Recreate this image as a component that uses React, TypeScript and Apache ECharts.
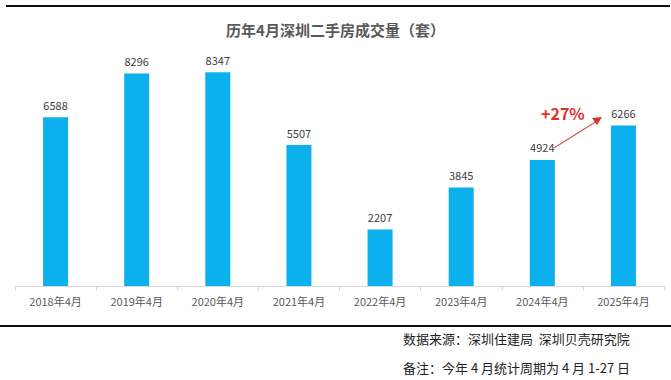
import React, { useEffect, useRef } from "react";
import * as echarts from "echarts";

const categories = ["2018年4月", "2019年4月", "2020年4月", "2021年4月", "2022年4月", "2023年4月", "2024年4月", "2025年4月"];
const volumes = [6588, 8296, 8347, 5507, 2207, 3845, 4924, 6266];
const titleText = "历年4月深圳二手房成交量（套）";
const sourceText = "数据来源：深圳住建局  深圳贝壳研究院";
const noteText = "备注：今年 4 月统计周期为 4 月 1-27 日";
const growthText = "+27%";

export default function App() {
  const ref = useRef<HTMLDivElement>(null);
  useEffect(() => {
    document.body.style.margin = "0";
    const chart = echarts.init(ref.current!, null, { renderer: "svg" });
    const font = "'Noto Sans CJK SC', 'Noto Sans', sans-serif";
    chart.setOption({
      animation: false,
      backgroundColor: "#ffffff",
      textStyle: { fontFamily: font },
      title: {
        text: titleText,
        left: "center",
        top: 17,
        textStyle: { fontSize: 15, fontWeight: "bold", color: "#595959", fontFamily: font },
      },
      grid: { left: 15, right: 7, top: 30, bottom: 94 },
      xAxis: {
        type: "category",
        data: categories,
        axisLine: { lineStyle: { color: "#d9d9d9" } },
        axisTick: { show: true, length: 5, lineStyle: { color: "#d9d9d9" } },
        axisLabel: { color: "#595959", fontSize: 11, margin: 9, fontFamily: font },
      },
      yAxis: {
        type: "value",
        min: 0,
        max: 10000,
        show: false,
        splitLine: { show: false },
      },
      series: [
        {
          type: "bar",
          data: volumes,
          barWidth: 25,
          itemStyle: { color: "#0cb0ec" },
          label: {
            show: true,
            position: "top",
            distance: 7,
            color: "#404040",
            fontSize: 11,
            fontFamily: font,
          },
        },
      ],
      graphic: [
        { type: "line", shape: { x1: 6, y1: 6, x2: 670, y2: 6 }, style: { stroke: "#111", lineWidth: 2 } },
        { type: "line", shape: { x1: 0, y1: 326, x2: 671, y2: 326 }, style: { stroke: "#111", lineWidth: 2 } },
        { type: "line", shape: { x1: 554, y1: 148, x2: 597, y2: 121 }, style: { stroke: "#d9534f", lineWidth: 1.2 } },
        { type: "polygon", shape: { points: [[602, 117], [592, 118], [597, 125]] }, style: { fill: "#d9322e" } },
        {
          type: "text",
          x: 541,
          y: 105,
          style: { text: growthText, fill: "#e0302b", fontSize: 16, fontWeight: "bold", fontFamily: font },
        },
        {
          type: "text",
          x: 403,
          y: 332,
          style: { text: sourceText, fill: "#222", fontSize: 13, fontFamily: font },
        },
        {
          type: "text",
          x: 403,
          y: 361,
          style: { text: noteText, fill: "#222", fontSize: 13, fontFamily: font },
        },
      ],
    });
    return () => chart.dispose();
  }, []);
  return <div ref={ref} style={{ width: 671, height: 380 }} />;
}
